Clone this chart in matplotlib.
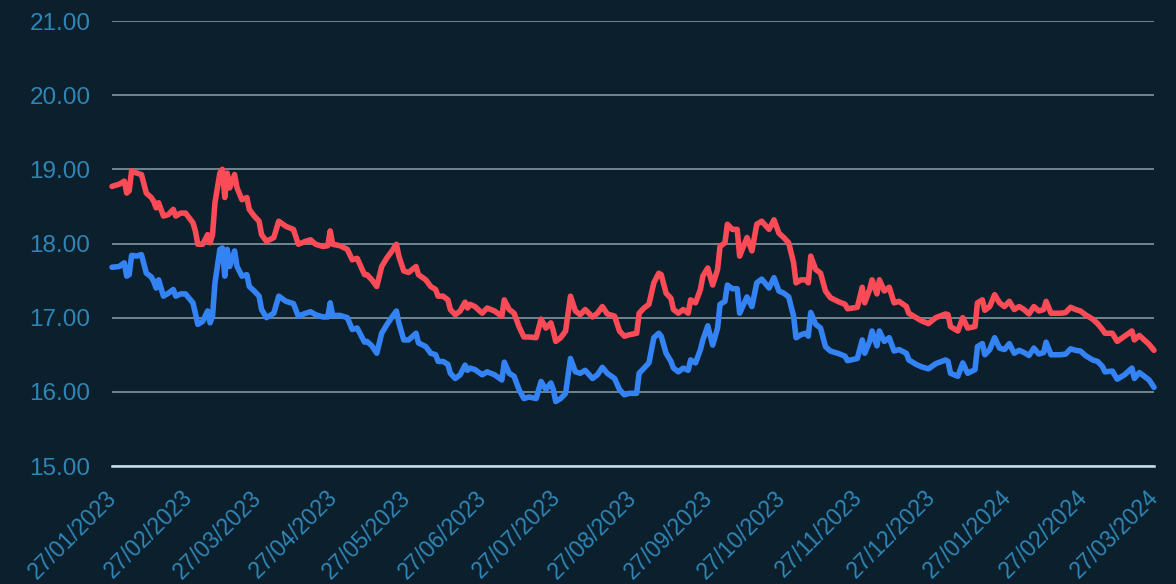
import matplotlib
matplotlib.use("Agg")
import matplotlib.pyplot as plt
import pandas as pd

# ---- data ----
DATES = [
    "2023-01-27", "2023-01-30", "2023-02-01", "2023-02-02", "2023-02-03", "2023-02-04",
    "2023-02-06", "2023-02-08", "2023-02-10", "2023-02-12", "2023-02-13", "2023-02-14",
    "2023-02-15", "2023-02-17", "2023-02-19", "2023-02-21", "2023-02-22", "2023-02-24",
    "2023-02-26", "2023-03-01", "2023-03-02", "2023-03-03", "2023-03-05", "2023-03-07",
    "2023-03-08", "2023-03-09", "2023-03-10", "2023-03-12", "2023-03-13", "2023-03-14",
    "2023-03-15", "2023-03-16", "2023-03-18", "2023-03-19", "2023-03-21", "2023-03-23",
    "2023-03-24", "2023-03-26", "2023-03-28", "2023-03-29", "2023-03-31", "2023-04-03",
    "2023-04-05", "2023-04-08", "2023-04-11", "2023-04-13", "2023-04-16", "2023-04-18",
    "2023-04-20", "2023-04-23", "2023-04-25", "2023-04-26", "2023-04-27", "2023-04-30",
    "2023-05-03", "2023-05-05", "2023-05-07", "2023-05-10", "2023-05-11", "2023-05-13",
    "2023-05-15", "2023-05-17", "2023-05-19", "2023-05-21", "2023-05-23", "2023-05-24",
    "2023-05-26", "2023-05-28", "2023-05-31", "2023-06-01", "2023-06-04", "2023-06-06",
    "2023-06-08", "2023-06-09", "2023-06-11", "2023-06-13", "2023-06-14", "2023-06-16",
    "2023-06-18", "2023-06-20", "2023-06-21", "2023-06-22", "2023-06-24", "2023-06-27",
    "2023-06-29", "2023-07-02", "2023-07-05", "2023-07-06", "2023-07-08", "2023-07-10",
    "2023-07-12", "2023-07-14", "2023-07-16", "2023-07-19", "2023-07-21", "2023-07-23",
    "2023-07-25", "2023-07-26", "2023-07-27", "2023-07-29", "2023-07-31", "2023-08-02",
    "2023-08-04", "2023-08-06", "2023-08-08", "2023-08-11", "2023-08-13", "2023-08-15",
    "2023-08-17", "2023-08-20", "2023-08-22", "2023-08-24", "2023-08-26", "2023-08-29",
    "2023-08-30", "2023-09-01", "2023-09-03", "2023-09-05", "2023-09-07", "2023-09-08",
    "2023-09-10", "2023-09-12", "2023-09-13", "2023-09-15", "2023-09-17", "2023-09-19",
    "2023-09-20", "2023-09-22", "2023-09-24", "2023-09-25", "2023-09-27", "2023-09-29",
    "2023-10-01", "2023-10-02", "2023-10-04", "2023-10-05", "2023-10-07", "2023-10-09",
    "2023-10-10", "2023-10-13", "2023-10-15", "2023-10-17", "2023-10-19", "2023-10-22",
    "2023-10-24", "2023-10-26", "2023-10-28", "2023-10-30", "2023-11-01", "2023-11-02",
    "2023-11-04", "2023-11-06", "2023-11-07", "2023-11-08", "2023-11-10", "2023-11-12",
    "2023-11-14", "2023-11-16", "2023-11-19", "2023-11-22", "2023-11-23", "2023-11-27",
    "2023-11-29", "2023-11-30", "2023-12-02", "2023-12-03", "2023-12-05", "2023-12-06",
    "2023-12-08", "2023-12-10", "2023-12-12", "2023-12-14", "2023-12-17", "2023-12-18",
    "2023-12-21", "2023-12-23", "2023-12-26", "2023-12-29", "2024-01-02", "2024-01-03",
    "2024-01-04", "2024-01-07", "2024-01-09", "2024-01-11", "2024-01-14", "2024-01-15",
    "2024-01-17", "2024-01-18", "2024-01-20", "2024-01-22", "2024-01-24", "2024-01-26",
    "2024-01-28", "2024-01-30", "2024-02-01", "2024-02-03", "2024-02-05", "2024-02-07",
    "2024-02-09", "2024-02-11", "2024-02-12", "2024-02-14", "2024-02-18", "2024-02-20",
    "2024-02-22", "2024-02-24", "2024-02-26", "2024-02-28", "2024-03-02", "2024-03-04",
    "2024-03-06", "2024-03-07", "2024-03-10", "2024-03-12", "2024-03-15", "2024-03-18",
    "2024-03-19", "2024-03-21", "2024-03-23", "2024-03-25", "2024-03-27",
]

RED = [
    18.77, 18.80, 18.84, 18.68, 18.71, 18.98, 18.95, 18.93, 18.68, 18.62, 18.57, 18.48,
    18.55, 18.37, 18.39, 18.46, 18.37, 18.41, 18.41, 18.28, 18.17, 17.99, 17.99, 18.12,
    18.01, 18.12, 18.55, 18.95, 19.00, 18.62, 18.95, 18.75, 18.93, 18.75, 18.59, 18.62,
    18.46, 18.37, 18.30, 18.12, 18.03, 18.08, 18.30, 18.23, 18.19, 17.99, 18.03, 18.05,
    17.99, 17.96, 17.97, 18.17, 17.99, 17.97, 17.92, 17.78, 17.80, 17.58, 17.58, 17.51,
    17.42, 17.69, 17.80, 17.89, 17.99, 17.83, 17.63, 17.61, 17.69, 17.58, 17.51, 17.42,
    17.38, 17.29, 17.29, 17.24, 17.11, 17.04, 17.09, 17.21, 17.13, 17.18, 17.15, 17.06,
    17.13, 17.09, 17.02, 17.24, 17.11, 17.06, 16.88, 16.74, 16.74, 16.73, 16.98, 16.86,
    16.93, 16.82, 16.68, 16.73, 16.82, 17.29, 17.09, 17.04, 17.11, 17.01, 17.06, 17.15,
    17.05, 17.02, 16.82, 16.75, 16.77, 16.79, 17.06, 17.13, 17.18, 17.47, 17.60, 17.58,
    17.33, 17.26, 17.11, 17.06, 17.11, 17.06, 17.24, 17.20, 17.38, 17.56, 17.67, 17.44,
    17.65, 17.96, 18.01, 18.26, 18.19, 18.19, 17.83, 18.08, 17.90, 18.26, 18.30, 18.19,
    18.32, 18.14, 18.08, 18.01, 17.74, 17.47, 17.51, 17.51, 17.47, 17.83, 17.65, 17.60,
    17.36, 17.27, 17.22, 17.18, 17.12, 17.14, 17.41, 17.20, 17.38, 17.51, 17.32, 17.51,
    17.36, 17.41, 17.20, 17.22, 17.15, 17.06, 17.00, 16.96, 16.92, 17.00, 17.05, 17.04,
    16.88, 16.82, 17.00, 16.86, 16.88, 17.20, 17.24, 17.10, 17.15, 17.31, 17.20, 17.15,
    17.22, 17.11, 17.15, 17.11, 17.05, 17.15, 17.09, 17.11, 17.22, 17.06, 17.06, 17.07,
    17.14, 17.11, 17.09, 17.04, 16.98, 16.92, 16.84, 16.79, 16.79, 16.68, 16.75, 16.82,
    16.70, 16.76, 16.70, 16.64, 16.56,
]

BLUE = [
    17.68, 17.69, 17.74, 17.56, 17.58, 17.84, 17.83, 17.85, 17.60, 17.55, 17.49, 17.40,
    17.51, 17.29, 17.33, 17.38, 17.29, 17.32, 17.32, 17.20, 17.06, 16.91, 16.95, 17.09,
    16.93, 17.02, 17.47, 17.92, 17.94, 17.56, 17.92, 17.69, 17.90, 17.69, 17.56, 17.58,
    17.42, 17.36, 17.29, 17.11, 17.00, 17.06, 17.29, 17.22, 17.19, 17.02, 17.06, 17.08,
    17.04, 17.01, 17.01, 17.20, 17.03, 17.03, 17.00, 16.84, 16.86, 16.67, 16.68, 16.62,
    16.52, 16.79, 16.90, 17.00, 17.09, 16.93, 16.70, 16.70, 16.79, 16.66, 16.61, 16.52,
    16.50, 16.41, 16.41, 16.37, 16.25, 16.18, 16.23, 16.36, 16.29, 16.32, 16.30, 16.23,
    16.27, 16.23, 16.16, 16.40, 16.25, 16.21, 16.03, 15.91, 15.93, 15.91, 16.14, 16.03,
    16.12, 16.03, 15.87, 15.91, 15.98, 16.45, 16.27, 16.25, 16.29, 16.18, 16.23, 16.33,
    16.25, 16.18, 16.03, 15.96, 15.98, 15.98, 16.25, 16.32, 16.39, 16.73, 16.79, 16.75,
    16.52, 16.41, 16.32, 16.27, 16.32, 16.29, 16.43, 16.39, 16.57, 16.70, 16.89, 16.63,
    16.86, 17.18, 17.22, 17.44, 17.39, 17.39, 17.06, 17.28, 17.15, 17.47, 17.52, 17.40,
    17.54, 17.36, 17.33, 17.28, 17.02, 16.73, 16.77, 16.79, 16.75, 17.07, 16.91, 16.86,
    16.61, 16.55, 16.52, 16.48, 16.42, 16.45, 16.70, 16.52, 16.68, 16.82, 16.62, 16.82,
    16.68, 16.73, 16.55, 16.57, 16.52, 16.43, 16.37, 16.34, 16.31, 16.38, 16.43, 16.41,
    16.25, 16.21, 16.39, 16.25, 16.30, 16.61, 16.65, 16.50, 16.57, 16.73, 16.59, 16.57,
    16.65, 16.52, 16.56, 16.53, 16.49, 16.59, 16.51, 16.53, 16.67, 16.50, 16.50, 16.51,
    16.58, 16.56, 16.55, 16.49, 16.43, 16.41, 16.34, 16.27, 16.28, 16.17, 16.23, 16.32,
    16.18, 16.26, 16.21, 16.16, 16.06,
]

# the 27th of every month, Jan 2023 .. Mar 2024
TICK_DATES = pd.date_range("2023-01-01", "2024-03-01", freq="MS") + pd.Timedelta(days=26)
Y_TICKS = [15, 16, 17, 18, 19, 20, 21]

# ---- style ----
BG = "#0c1f2c"
RED_C = "#fb4b57"
BLUE_C = "#3383f5"
LABEL_C = "#2f86b6"
GRID_C = "#8da1ab"

plt.rcParams["font.family"] = ["Liberation Sans", "DejaVu Sans"]

dates = pd.to_datetime(DATES)

fig = plt.figure(figsize=(11.76, 5.84), dpi=100, facecolor=BG)
ax = fig.add_axes([112 / 1176, 1 - 466 / 584, (1154 - 112) / 1176, (466 - 21) / 584])
ax.set_facecolor(BG)

ax.plot(dates, BLUE, color=BLUE_C, linewidth=4.0, solid_joinstyle="round",
        solid_capstyle="round", zorder=3, clip_on=False)
ax.plot(dates, RED, color=RED_C, linewidth=4.0, solid_joinstyle="round",
        solid_capstyle="round", zorder=3, clip_on=False)

ax.set_xlim(dates[0], dates[-1])
ax.set_ylim(15, 21)

ax.set_yticks(Y_TICKS)
ax.set_yticklabels([f"{v:.2f}" for v in Y_TICKS])
ax.tick_params(axis="y", length=0, pad=15.5, labelsize=17.5, labelcolor=LABEL_C)
ax.grid(axis="y", color=GRID_C, linewidth=1.1, zorder=1)

for s in ["left", "right", "top"]:
    ax.spines[s].set_visible(False)
ax.spines["bottom"].set_color("#c8e0ec")
ax.spines["bottom"].set_linewidth(1.8)
ax.spines["bottom"].set_zorder(2)

# x labels: rotated, anchored at their top-right end just under each tick
ax.set_xticks(TICK_DATES)
ax.set_xticklabels([])
ax.tick_params(axis="x", length=0)
for d in TICK_DATES:
    ax.annotate(d.strftime("%d/%m/%Y"), xy=(d, 0), xycoords=("data", "axes fraction"),
                xytext=(-7, -20), textcoords="offset pixels", rotation=45,
                ha="right", va="top", rotation_mode="anchor",
                fontsize=16.5, color=LABEL_C, annotation_clip=False)

fig.savefig("out.png", dpi=100, facecolor=BG)
